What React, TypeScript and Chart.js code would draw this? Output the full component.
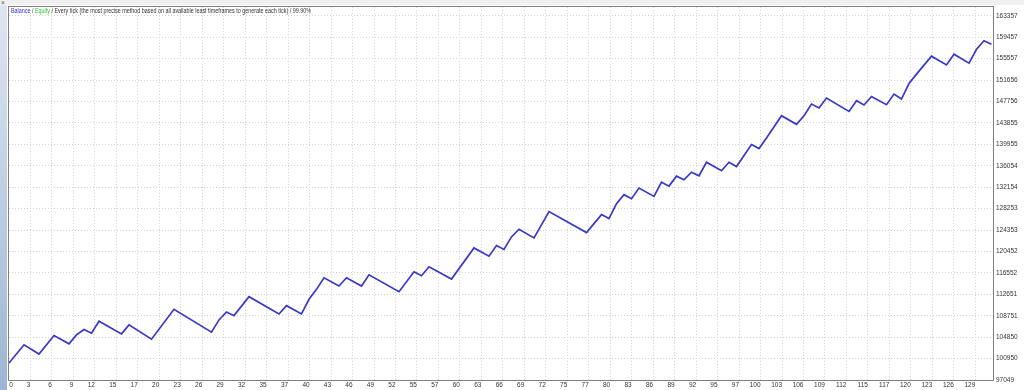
import React, { useEffect, useRef } from 'react';
import { Chart, registerables } from 'chart.js';

Chart.register(...registerables);

// Trade numbers at the turning points of the balance curve, and the balance at each
const tradeNumbers = [
  0, 2, 4, 6, 8, 9, 10, 11, 12, 15, 16, 19, 22, 27, 28, 29, 30, 32, 36, 37,
  39, 40, 41, 42, 44, 45, 47, 48, 52, 54, 55, 56, 59, 62, 64, 65, 66, 67, 68, 70,
  72, 77, 79, 80, 81, 82, 83, 84, 86, 87, 88, 89, 90, 91, 92, 93, 95, 96, 97, 99,
  100, 101, 103, 105, 106, 107, 108, 109, 112, 113, 114, 115, 117, 118, 119, 120, 121, 123, 125, 126,
  128, 129, 130, 131,
];
const balances = [
  100133, 103453, 101766, 105140, 103634, 105267, 106229, 105576, 107753, 105449,
  107082, 104487, 109930, 105757, 107989, 109440, 108769, 112216, 109077, 110583,
  109077, 111744, 113558, 115663, 114157, 115663, 114157, 116207, 113123, 116751,
  116026, 117658, 115427, 121105, 119599, 121541, 120815, 123101, 124498, 122919,
  127709, 123899, 127165, 126439, 129160, 130793, 130067, 131990, 130485, 133079,
  132353, 134167, 133514, 134893, 134240, 136707, 135147, 136707, 135927, 139919,
  139193, 141134, 145180, 143601, 145180, 147302, 146577, 148391, 145960, 147901,
  147121, 148681, 147175, 149117, 148209, 151040, 152745, 156011, 154432, 156373,
  154741, 157280, 158840, 158188,
];

const yTickValues = [
  97049, 100950, 104850, 108751, 112651, 116552, 120452, 124353, 128253, 132154,
  136054, 139955, 143855, 147756, 151656, 155557, 159457, 163357,
];
const xTickLabels = [
  0, 3, 6, 9, 12, 15, 17, 20, 23, 26, 29, 32, 35, 37, 40, 43, 46, 49, 52, 55,
  57, 60, 63, 66, 69, 72, 75, 77, 80, 83, 86, 89, 92, 95, 97, 100, 103, 106, 109, 112,
  115, 117, 120, 123, 126, 129,
];

const titleSegments = [
  { text: 'Balance', color: '#3434c4' },
  { text: ' / ', color: '#333333' },
  { text: 'Equity', color: '#2fbf2f' },
  {
    text: ' / Every tick (the most precise method based on all available least timeframes to generate each tick) / 99.90%',
    color: '#333333',
  },
];

const Y_MIN = 97049;
const Y_MAX = 164990;
const X_MAX = 131.2;
const X_TICK_STEP = 2.863;
const FIRST_LABEL_SHIFT = 0.5;
const FONT = 'Liberation Sans';
const GRID = '#d2d2d2';

const framePlugin = {
  id: 'frame',
  beforeDraw(chart: any) {
    const { ctx, width, height } = chart;
    ctx.save();
    ctx.fillStyle = '#ffffff';
    ctx.fillRect(0, 0, width, height);
    ctx.fillStyle = '#f0f0f0';
    ctx.fillRect(0, 0, width, 5);
    const g = ctx.createLinearGradient(0, 0, 0, height);
    g.addColorStop(0, '#dfe7f1');
    g.addColorStop(1, '#9db6d4');
    ctx.fillStyle = g;
    ctx.fillRect(0, 5, 7, height - 5);
    ctx.fillStyle = '#555';
    ctx.font = `7px ${FONT}`;
    ctx.textBaseline = 'middle';
    ctx.fillText('\u00d7', 1, 3);
    ctx.restore();
  },
  afterDraw(chart: any) {
    const { ctx, chartArea } = chart;
    ctx.save();
    ctx.strokeStyle = '#808080';
    ctx.lineWidth = 1;
    ctx.strokeRect(
      Math.round(chartArea.left) - 0.5,
      Math.round(chartArea.top) - 0.5,
      Math.round(chartArea.right - chartArea.left) + 1,
      Math.round(chartArea.bottom - chartArea.top) + 1
    );
    // title
    ctx.font = `7px ${FONT}`;
    ctx.textBaseline = 'middle';
    ctx.textAlign = 'left';
    let total = 0;
    for (const s of titleSegments) total += ctx.measureText(s.text).width;
    const sx = 300 / total;
    ctx.translate(11, 11);
    ctx.scale(sx, 1);
    let x = 0;
    for (const s of titleSegments) {
      ctx.fillStyle = s.color;
      ctx.fillText(s.text, x, 0);
      x += ctx.measureText(s.text).width;
    }
    ctx.restore();
  },
};

export default function App() {
  const ref = useRef<HTMLCanvasElement>(null);

  useEffect(() => {
    document.body.style.margin = '0';
    if (!ref.current) return;
    const data = tradeNumbers.map((t, i) => ({ x: t, y: balances[i] }));
    const chart = new Chart(ref.current, {
      type: 'line',
      data: {
        datasets: [
          {
            data,
            borderColor: '#3838c8',
            borderWidth: 1.7,
            pointRadius: 0,
            tension: 0,
            fill: false,
          },
        ],
      },
      options: {
        animation: false,
        responsive: false,
        maintainAspectRatio: false,
        parsing: false,
        layout: { padding: { left: 9, top: 6, right: 0, bottom: 0 } },
        plugins: {
          legend: { display: false },
          tooltip: { enabled: false },
          title: { display: false },
        },
        scales: {
          x: {
            type: 'linear',
            min: 0,
            max: X_MAX,
            position: 'bottom',
            afterBuildTicks: (s: any) => {
              s.ticks = xTickLabels.map((_, i) => ({
                value: i === 0 ? FIRST_LABEL_SHIFT : i * X_TICK_STEP,
              }));
            },
            afterFit: (s: any) => {
              s.height = 10;
            },
            grid: {
              color: (c: any) => (c.index === 0 ? 'rgba(0,0,0,0)' : GRID),
              lineWidth: 1,
              drawTicks: false,
              tickLength: 0,
            },
            border: { display: false, dash: [1, 2] },
            ticks: {
              autoSkip: false,
              maxRotation: 0,
              minRotation: 0,
              padding: 1,
              align: 'end',
              color: '#333333',
              font: { family: FONT, size: 6.5 },
              callback: (_v: any, i: number) => String(xTickLabels[i]),
            },
          },
          y: {
            type: 'linear',
            position: 'right',
            min: Y_MIN,
            max: Y_MAX,
            afterBuildTicks: (s: any) => {
              s.ticks = yTickValues.map((v) => ({ value: v }));
            },
            afterFit: (s: any) => {
              s.width = 31;
            },
            grid: { color: GRID, lineWidth: 1, drawTicks: false, tickLength: 0 },
            border: { display: false, dash: [1, 2] },
            ticks: {
              autoSkip: false,
              padding: 3,
              color: '#333333',
              font: { family: FONT, size: 6.5 },
              callback: (v: any) => String(v),
            },
          },
        },
      },
      plugins: [framePlugin],
    } as any);
    return () => chart.destroy();
  }, []);

  return <canvas ref={ref} width={1024} height={390} style={{ display: 'block' }} />;
}
